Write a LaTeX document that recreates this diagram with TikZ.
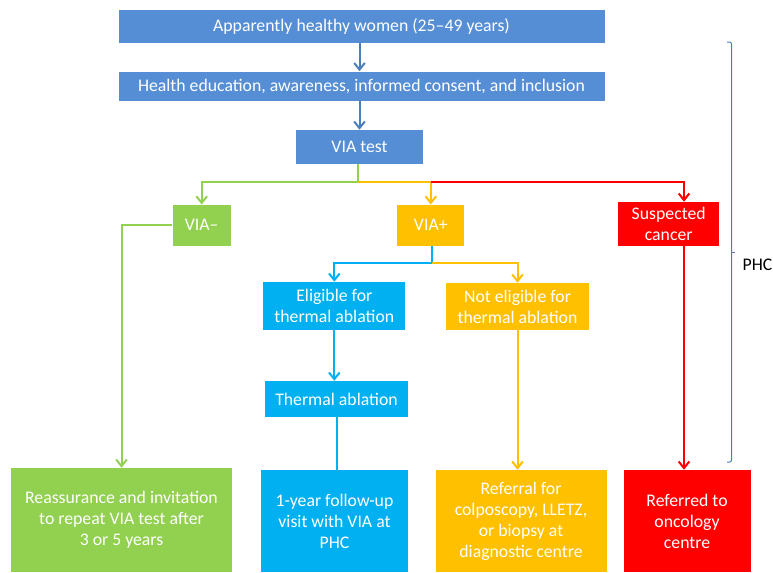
\documentclass[tikz,border=0pt]{standalone}
\usepackage{fontspec}
\setmainfont{Carlito}
\usetikzlibrary{arrows.meta}
\definecolor{boxblue}{HTML}{558ED5}
\definecolor{lineblue}{HTML}{4A7EBB}
\definecolor{viagreen}{HTML}{92D050}
\definecolor{viaorange}{HTML}{FFC000}
\definecolor{viared}{HTML}{FF0000}
\definecolor{viacyan}{HTML}{00B0F0}
\tikzset{
	box/.style={rectangle, inner sep=0pt, text=white, align=center, font=\fontsize{13.3}{15.75}\selectfont},
	link/.style={line width=1.5pt, -{Straight Barb[length=5pt,width=8pt]}},
	plain/.style={line width=1.5pt},
}

\begin{document}
\begin{tikzpicture}[x=0.75pt,y=-0.75pt]
		%%%%% START %%%%%
		\useasboundingbox (0,0) rectangle (773,572);
		
		\node[box, fill=boxblue, minimum width=364.5pt, minimum height=24.75pt] (women) at (361.5, 26.5) {Apparently healthy women (25--49 years)};
		\node[box, fill=boxblue, minimum width=364.5pt, minimum height=21.75pt] (educ) at (361.5, 86) {Health education, awareness, informed consent, and inclusion};
		\node[box, fill=boxblue, minimum width=95.25pt, minimum height=25.5pt] (viatest) at (359.5, 147) {VIA test};
		
		\node[box, fill=viagreen, minimum width=43.5pt, minimum height=30.75pt] (vianeg) at (201.7, 225.3) {VIA--};
		\node[box, fill=viaorange, minimum width=50.25pt, minimum height=30.75pt] (viapos) at (430.8, 225.3) {VIA+};
		\node[box, fill=viared, minimum width=75.75pt, minimum height=33pt] (suspect) at (668.7, 224) {Suspected\\cancer};
		
		\node[box, fill=viacyan, minimum width=106.5pt, minimum height=36pt] (eligible) at (334.3, 306) {Eligible for\\thermal ablation};
		\node[box, fill=viaorange, minimum width=107.25pt, minimum height=35.25pt] (noteligible) at (517.5, 306.5) {Not eligible for\\thermal ablation};
		\node[box, fill=viacyan, minimum width=107.25pt, minimum height=27pt] (thermal) at (336.5, 399) {Thermal ablation};
		
		\node[box, fill=viagreen, minimum width=165.75pt, minimum height=78pt] (reassure) at (121.5, 520) {Reassurance and invitation\\to repeat VIA test after\\3 or 5 years};
		\node[box, fill=viacyan, minimum width=110.25pt, minimum height=76.5pt] (followup) at (334.5, 521) {1-year follow-up\\visit with VIA at\\PHC};
		\node[box, fill=viaorange, minimum width=128.25pt, minimum height=76.5pt] (referral) at (521, 521) {Referral for\\colposcopy, LLETZ,\\or biopsy at\\diagnostic centre};
		\node[box, fill=viared, minimum width=95.25pt, minimum height=76.5pt] (oncology) at (687, 521) {Referred to\\oncology\\centre};
		
		\node[anchor=east, inner sep=0pt, font=\fontsize{13.3}{15}\selectfont] (phc) at (772.5, 265) {PHC};
		
		\coordinate (split) at (358, 182);
		\coordinate (split2) at (431.7, 263.3);
		\coordinate (redcol) at (684, 0);
		
		\draw[link, lineblue] (viatest.north |- women.south) -- (viatest.north |- educ.north);
		\draw[link, lineblue] (viatest.north |- educ.south) -- (viatest.north);
		
		\draw[link, viagreen] (viatest.south -| split) -- (split) -| (vianeg.north);
		\draw[link, viaorange] (split) -| (viapos.north);
		\draw[link, viared] (viapos.north |- split) -| (redcol |- suspect.north);
		
		\draw[link, viagreen] (vianeg.west) -| (reassure.north);
		
		\draw[link, viacyan] (viapos.south -| split2) -- (split2) -| (eligible.north);
		\draw[link, viaorange] (split2) -| (noteligible.north);
		
		\draw[link, viacyan] (eligible.south) -- (eligible.south |- thermal.north);
		\draw[plain, viacyan] (thermal.south) -- (thermal.south |- followup.north);
		\draw[link, viaorange] (noteligible.south) -- (noteligible.south |- referral.north);
		\draw[link, viared] (redcol |- suspect.south) -- (redcol |- oncology.north);
		
		\draw[lineblue, line width=0.75pt, rounded corners=1.5pt] (727, 42) -- (731.5, 42) -- (731.5, 462) -- (727, 462);
		\draw[lineblue, line width=0.75pt] (731.5, 252) -- (735, 252);
		%%%%% END %%%%%
	\end{tikzpicture}
\end{document}
